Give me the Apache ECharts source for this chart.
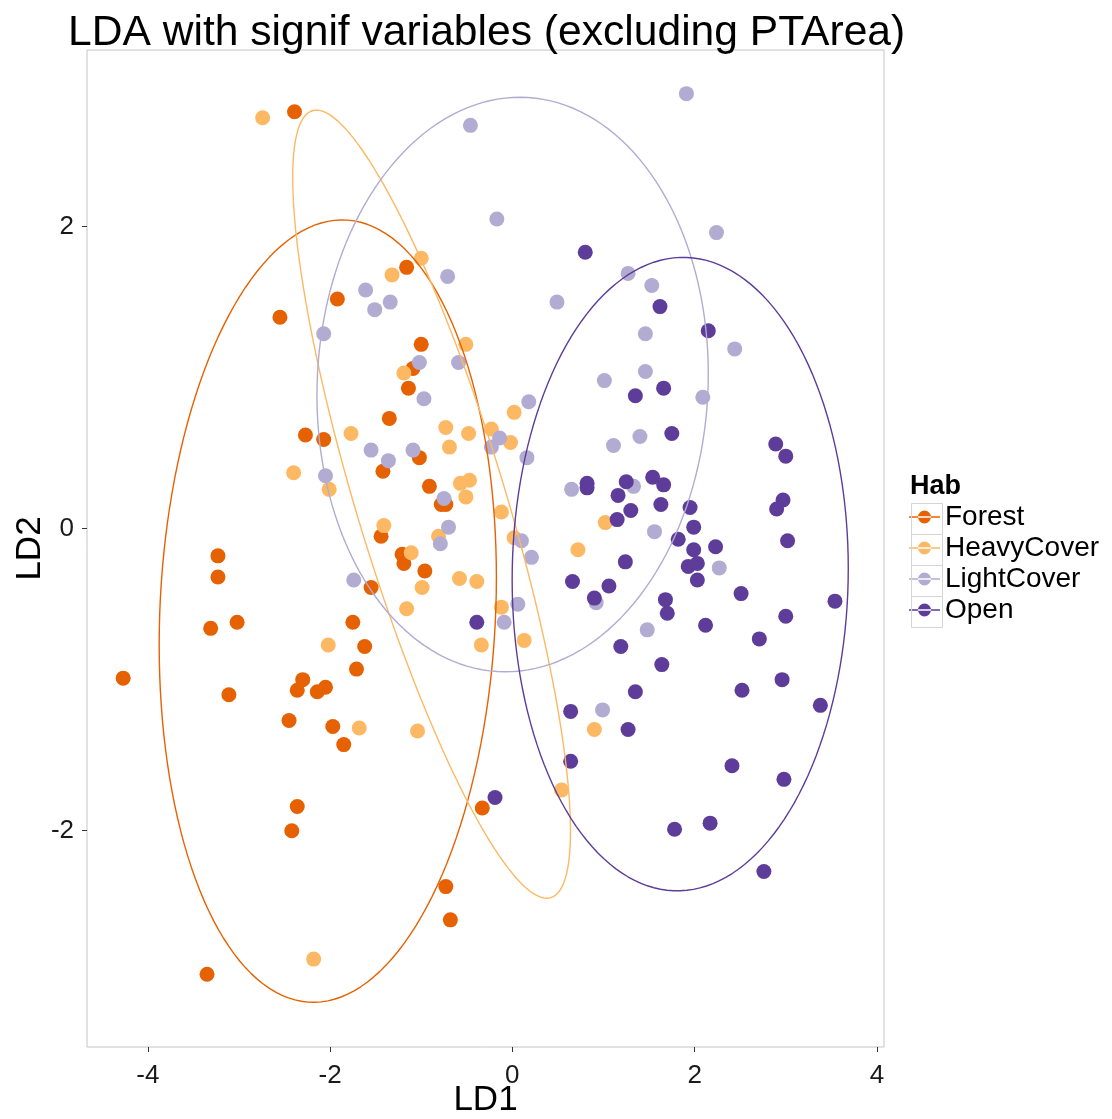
<!DOCTYPE html>
<html>
<head>
<meta charset="utf-8">
<title>LDA with signif variables</title>
<script src="https://cdn.jsdelivr.net/npm/echarts@6/dist/echarts.min.js"></script>
<style>
  html, body { margin: 0; padding: 0; background: #fff; }
  #chart { width: 1112px; height: 1119px; }
</style>
</head>
<body>
<div id="chart"></div>
<script>
// groups (Hab) and their colours
var habNames = ['Forest', 'HeavyCover', 'LightCover', 'Open'];
var habColors = ['#E66101', '#FDB863', '#B2ABD2', '#5E3C99'];

// tick labels
var ld1Ticks = [-4, -2, 0, 2, 4];
var ld2Ticks = [-2, 0, 2];

// [LD1, LD2]
var forestPts = [
  [-2.39, 2.76], [-1.16, 1.73], [-1.92, 1.52], [-2.55, 1.40], [-1.00, 1.22],
  [-1.09, 1.06], [-1.14, 0.93], [-1.35, 0.73], [-2.27, 0.62], [-2.07, 0.59],
  [-1.02, 0.47], [-1.42, 0.38], [-0.91, 0.28], [-0.78, 0.16], [-0.73, 0.16],
  [-1.44, -0.05], [-1.21, -0.17], [-1.19, -0.23], [-0.96, -0.28], [-1.55, -0.39],
  [-3.23, -0.18], [-3.23, -0.32], [-3.02, -0.62], [-3.31, -0.66], [-1.75, -0.62],
  [-1.62, -0.78], [-1.71, -0.93], [-4.27, -0.99], [-2.30, -1.00], [-2.36, -1.07],
  [-2.05, -1.05], [-2.14, -1.08], [-3.11, -1.10], [-2.45, -1.27], [-1.97, -1.31],
  [-1.85, -1.43], [-2.36, -1.84], [-2.42, -2.00], [-0.33, -1.85], [-0.73, -2.37],
  [-0.68, -2.59], [-3.35, -2.95]
];
var heavyPts = [
  [-2.74, 2.72], [-1.00, 1.79], [-1.32, 1.68], [-0.51, 1.22], [-1.19, 1.03],
  [-0.73, 0.67], [-0.48, 0.63], [-1.77, 0.63], [-0.69, 0.54], [-2.40, 0.37],
  [-2.01, 0.26], [-0.57, 0.30], [-0.47, 0.32], [-0.51, 0.21], [-0.81, -0.05],
  [-1.41, 0.02], [-1.11, -0.16], [-0.58, -0.33], [-0.39, -0.35], [-0.99, -0.39],
  [-1.16, -0.53], [-0.34, -0.77], [-2.02, -0.77], [0.02, 0.77], [-0.23, 0.66],
  [-0.02, 0.57], [-0.12, 0.11], [0.02, -0.06], [0.72, -0.14], [1.02, 0.04],
  [-0.12, -0.52], [0.13, -0.74], [-1.68, -1.32], [-1.04, -1.34], [0.90, -1.33],
  [0.54, -1.73], [-2.18, -2.85]
];
var lightPts = [
  [-0.46, 2.67], [-0.71, 1.67], [-1.61, 1.58], [-1.34, 1.50], [-1.51, 1.45],
  [-2.07, 1.29], [-1.02, 1.10], [-0.59, 1.10], [-0.97, 0.86], [-1.55, 0.52],
  [-1.36, 0.45], [-1.09, 0.52], [-2.05, 0.35], [-0.75, 0.20], [-0.70, 0.01],
  [-0.79, -0.10], [-1.74, -0.34], [1.91, 2.88], [-0.17, 2.05], [2.24, 1.96],
  [1.27, 1.69], [1.53, 1.61], [0.49, 1.50], [2.44, 1.19], [1.46, 1.29],
  [1.46, 1.04], [1.01, 0.98], [2.09, 0.87], [0.18, 0.84], [-0.14, 0.60],
  [-0.23, 0.54], [0.16, 0.47], [1.11, 0.55], [1.40, 0.61], [0.65, 0.26],
  [1.33, 0.28], [1.56, -0.02], [0.10, -0.08], [0.21, -0.19], [2.27, -0.26],
  [0.92, -0.49], [1.48, -0.67], [0.99, -1.20], [0.06, -0.50], [-0.09, -0.62]
];
var openPts = [
  [0.80, 1.83], [1.62, 1.47], [2.15, 1.31], [1.35, 0.88], [1.66, 0.93],
  [1.75, 0.63], [2.89, 0.56], [3.00, 0.48], [0.82, 0.30], [0.82, 0.27],
  [1.25, 0.31], [1.54, 0.34], [1.66, 0.29], [1.16, 0.22], [1.30, 0.12],
  [1.63, 0.16], [1.95, 0.14], [2.97, 0.19], [2.90, 0.13], [1.15, 0.06],
  [1.99, 0.01], [1.82, -0.07], [3.02, -0.08], [1.99, -0.14], [2.23, -0.12],
  [1.24, -0.22], [1.93, -0.25], [2.03, -0.23], [2.03, -0.34], [0.66, -0.35],
  [1.06, -0.38], [2.51, -0.43], [3.54, -0.48], [0.90, -0.46], [1.68, -0.47],
  [1.70, -0.56], [3.00, -0.58], [2.12, -0.64], [2.71, -0.73], [1.19, -0.78],
  [1.64, -0.90], [2.96, -1.00], [1.35, -1.08], [2.52, -1.07], [3.38, -1.17],
  [0.64, -1.21], [1.27, -1.33], [0.64, -1.54], [-0.19, -1.78], [2.41, -1.57],
  [2.98, -1.66], [1.78, -1.99], [2.17, -1.95], [2.76, -2.27], [-0.39, -0.62]
];
var habPts = [forestPts, heavyPts, lightPts, openPts];

// 95% ellipses (stat_ellipse):
// centre, half width, half height, covariance term
var ellCx = [-2.025, -0.886, 0.003, 1.842];
var ellCy = [-0.546, 0.162, 0.954, -0.301];
var ellHalfW = [1.85, 1.524, 2.147, 1.844];
var ellHalfH = [2.59, 2.609, 1.902, 2.097];
var ellCov = [0.412, -3.296, 0.15, 0.069];

/**
 * outline of an ellipse from its centre and shape terms
 */
function ellipsePath(i) {
  var l11 = ellHalfW[i];
  var l21 = ellCov[i] / l11;
  var l22 = Math.sqrt(ellHalfH[i] * ellHalfH[i] - l21 * l21);
  var pts = [];
  var n = 160;
  for (var k = 0; k <= n; k++) {
    var t = 2 * Math.PI * k / n;
    pts.push([ellCx[i] + l11 * Math.cos(t), ellCy[i] + l21 * Math.cos(t) + l22 * Math.sin(t)]);
  }
  return pts;
}

var fontName = '"Liberation Sans", Arial, Helvetica, sans-serif';
// legend glyph: a line with a dot on it
var keyIcon = 'path://M0,5.35 L31,5.35 L31,6.65 L0,6.65 Z M9,6 A6.5,6.5 0 1,0 22,6 A6.5,6.5 0 1,0 9,6 Z';

var series = [];
habNames.forEach(function (name, i) {
  series.push({
    name: name,
    type: 'scatter',
    data: habPts[i],
    symbol: 'circle',
    symbolSize: 15,
    itemStyle: { color: habColors[i], opacity: 1 },
    emphasis: { disabled: true },
    silent: true,
    z: 2
  });
});
habNames.forEach(function (name, i) {
  series.push({
    name: name + ' ellipse',
    type: 'line',
    data: ellipsePath(i),
    showSymbol: false,
    symbol: 'none',
    smooth: false,
    lineStyle: { color: habColors[i], width: 1.4 },
    itemStyle: { color: habColors[i] },
    silent: true,
    animation: false,
    z: 3
  });
});

// grey frames round the legend keys
var keyBoxes = [];
habNames.forEach(function (name, i) {
  keyBoxes.push({
    type: 'rect',
    left: 909,
    top: 501 + i * 31,
    shape: { width: 31, height: 31 },
    style: { fill: 'none', stroke: '#d4d4d4', lineWidth: 1 },
    z: 100
  });
});

var chart = echarts.init(document.getElementById('chart'), null, { renderer: 'canvas' });
chart.setOption({
  backgroundColor: '#fff',
  animation: false,
  textStyle: { fontFamily: fontName },
  title: [{
    text: 'LDA with signif variables (excluding PTArea)',
    left: 63,
    top: 7,
    textStyle: { fontFamily: fontName, fontSize: 42.6, fontWeight: 'normal', color: '#000' }
  }, {
    text: 'Hab',
    left: 905,
    top: 468,
    textStyle: { fontFamily: fontName, fontSize: 27, fontWeight: 'bold', color: '#000' }
  }],
  legend: {
    orient: 'vertical',
    left: 909,
    top: 503,
    padding: 0,
    itemWidth: 31,
    itemHeight: 31,
    itemGap: 3,
    icon: keyIcon,
    data: habNames,
    selectedMode: false,
    textStyle: { fontFamily: fontName, fontSize: 28, color: '#000' }
  },
  grid: {
    left: 87,
    right: 228,
    top: 50,
    bottom: 72,
    show: true,
    borderColor: '#c4c4c4',
    borderWidth: 1,
    containLabel: false,
    outerBoundsMode: 'none'
  },
  xAxis: {
    type: 'value',
    min: -4.667,
    max: 4.078,
    name: 'LD1',
    nameLocation: 'middle',
    nameGap: 53,
    nameMoveOverlap: false,
    nameTextStyle: { fontFamily: fontName, fontSize: 35, color: '#000', verticalAlign: 'middle' },
    axisLine: { show: false, onZero: false },
    axisTick: { show: true, length: 5, customValues: ld1Ticks, lineStyle: { color: '#333', width: 1 } },
    axisLabel: { customValues: ld1Ticks, margin: 16, fontSize: 26, color: '#1a1a1a', fontFamily: fontName },
    splitLine: { show: false }
  },
  yAxis: {
    type: 'value',
    min: -3.432,
    max: 3.169,
    name: 'LD2',
    nameLocation: 'middle',
    nameRotate: 90,
    nameGap: 39,
    nameMoveOverlap: false,
    nameTextStyle: { fontFamily: fontName, fontSize: 35, color: '#000' },
    axisLine: { show: false, onZero: false },
    axisTick: { show: true, length: 5, customValues: ld2Ticks, lineStyle: { color: '#333', width: 1 } },
    axisLabel: { customValues: ld2Ticks, margin: 13, fontSize: 26, color: '#1a1a1a', fontFamily: fontName },
    splitLine: { show: false }
  },
  graphic: keyBoxes,
  series: series
});
</script>
</body>
</html>
